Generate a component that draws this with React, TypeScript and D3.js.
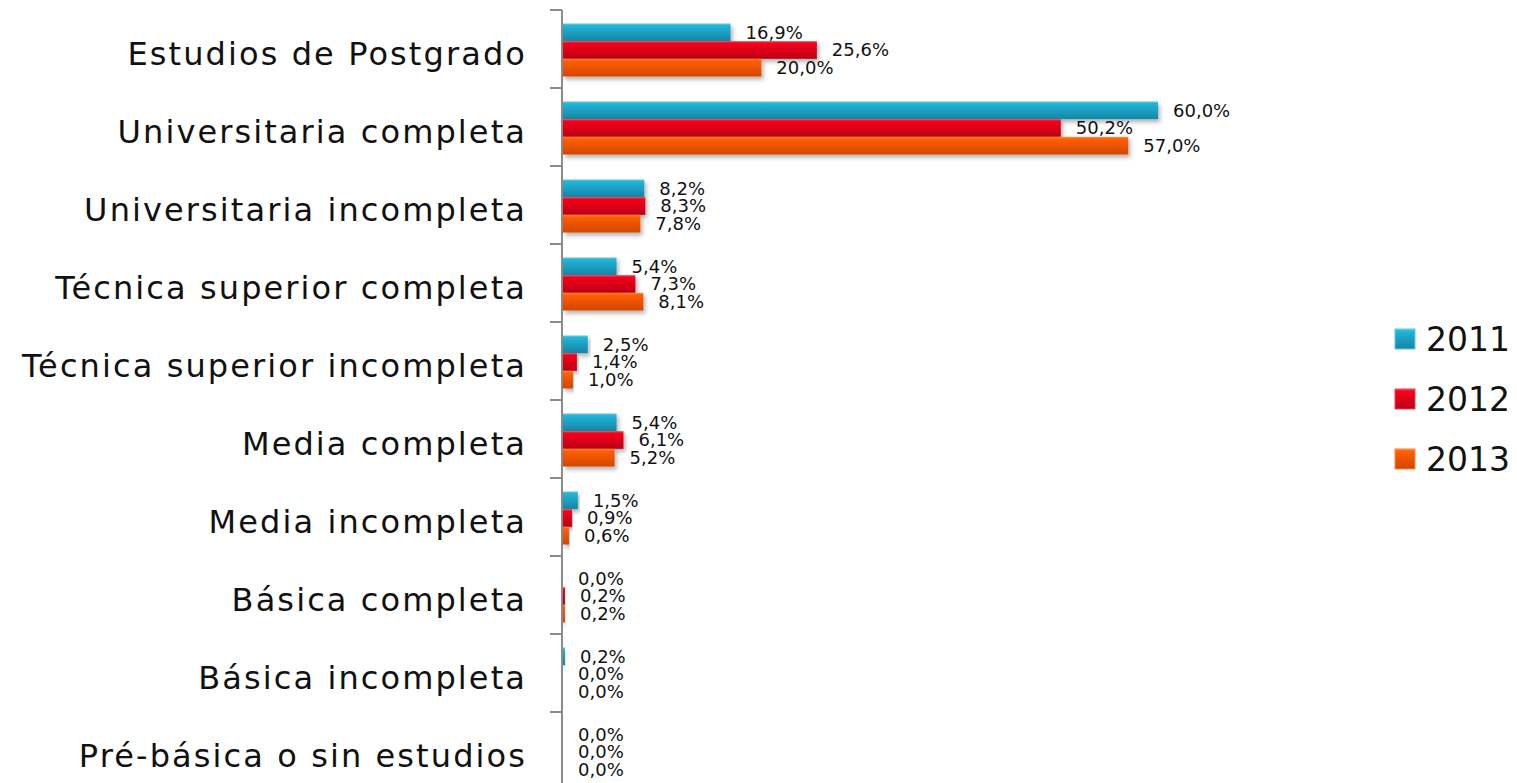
import React from 'react';
import * as d3 from 'd3';

const categories = [
  'Estudios de Postgrado',
  'Universitaria completa',
  'Universitaria incompleta',
  'Técnica superior completa',
  'Técnica superior incompleta',
  'Media completa',
  'Media incompleta',
  'Básica completa',
  'Básica incompleta',
  'Pré-básica o sin estudios',
];

const years = ['2011', '2012', '2013'];

const values2011 = [16.9, 60.0, 8.2, 5.4, 2.5, 5.4, 1.5, 0.0, 0.2, 0.0];
const values2012 = [25.6, 50.2, 8.3, 7.3, 1.4, 6.1, 0.9, 0.2, 0.0, 0.0];
const values2013 = [20.0, 57.0, 7.8, 8.1, 1.0, 5.2, 0.6, 0.2, 0.0, 0.0];

const seriesValues = [values2011, values2012, values2013];

// top / bottom gradient stops per series
const seriesColors = [
  { top: '#22b4d6', bottom: '#1485a6', edge: '#62c8e0' },
  { top: '#f5041c', bottom: '#bb0012', edge: '#f04050' },
  { top: '#ff5e05', bottom: '#d24600', edge: '#ff8a40' },
];

const W = 1517;
const H = 783;
const FONT = '"DejaVu Sans", "Century Gothic", sans-serif';

export default function App() {
  const axisX = 562;
  const top = 10;
  const band = 78;

  const y = d3.scaleBand<string>()
    .domain(categories)
    .range([top, top + band * categories.length])
    .padding(0);

  const groupH = 53;
  const inner = d3.scaleBand<string>()
    .domain(years)
    .range([0, groupH])
    .padding(0);

  const x = d3.scaleLinear().domain([0, 60]).range([axisX, 1157]);

  const fmt = (v: number) => v.toFixed(1).replace('.', ',') + '%';

  return (
    <svg
      width={W}
      height={H}
      style={{ position: 'absolute', left: 0, top: 0, background: '#fff' }}
    >
      <defs>
        {seriesColors.map((c, i) => (
          <linearGradient key={i} id={`grad${i}`} x1="0" y1="0" x2="0" y2="1">
            <stop offset="0%" stopColor={c.edge} />
            <stop offset="12%" stopColor={c.top} />
            <stop offset="100%" stopColor={c.bottom} />
          </linearGradient>
        ))}
        <filter id="shadow" x="-5%" y="-30%" width="115%" height="180%">
          <feDropShadow dx="2" dy="3" stdDeviation="2" floodColor="#000" floodOpacity="0.3" />
        </filter>
      </defs>

      {/* axis line and ticks */}
      <line x1={axisX} x2={axisX} y1={top} y2={H + 10} stroke="#8c8c8c" strokeWidth={2} />
      {d3.range(categories.length + 1).map(i => (
        <line
          key={i}
          x1={axisX - 12}
          x2={axisX}
          y1={top + i * band}
          y2={top + i * band}
          stroke="#8c8c8c"
          strokeWidth={2}
        />
      ))}

      {/* category labels */}
      {categories.map(c => (
        <text
          key={c}
          x={527}
          y={(y(c) as number) + y.bandwidth() / 2 + 16}
          textAnchor="end"
          fontFamily={FONT}
          fontSize={32}
          letterSpacing={2.1}
          fill="#111"
        >
          {c}
        </text>
      ))}

      {/* bars */}
      {categories.map((c, ci) => {
        const g0 = (y(c) as number) + (y.bandwidth() - groupH) / 2 + 1;
        return (
          <g key={c}>
            {years.map((yr, si) => {
              const v = seriesValues[si][ci];
              const by = g0 + (inner(yr) as number);
              const bh = inner.bandwidth();
              const w = x(v) - x(0);
              return (
                <g key={yr}>
                  {w > 0 && (
                    <rect
                      x={x(0) + 1}
                      y={by}
                      width={Math.max(w, 2)}
                      height={bh}
                      fill={`url(#grad${si})`}
                      filter="url(#shadow)"
                    />
                  )}
                  <text
                    x={x(v) + 16}
                    y={by + bh / 2}
                    dy="0.36em"
                    fontFamily={FONT}
                    fontSize={18}
                    fill="#111"
                  >
                    {fmt(v)}
                  </text>
                </g>
              );
            })}
          </g>
        );
      })}

      {/* legend */}
      {years.map((yr, i) => (
        <g key={yr} transform={`translate(1395, ${339 + i * 60})`}>
          <rect
            x={0}
            y={-10}
            width={20}
            height={20}
            fill={`url(#grad${i})`}
            stroke={seriesColors[i].edge}
            strokeWidth={1}
          />
          <text x={31} y={0} dy="0.36em" fontFamily={FONT} fontSize={33} fill="#111">
            {yr}
          </text>
        </g>
      ))}
    </svg>
  );
}
